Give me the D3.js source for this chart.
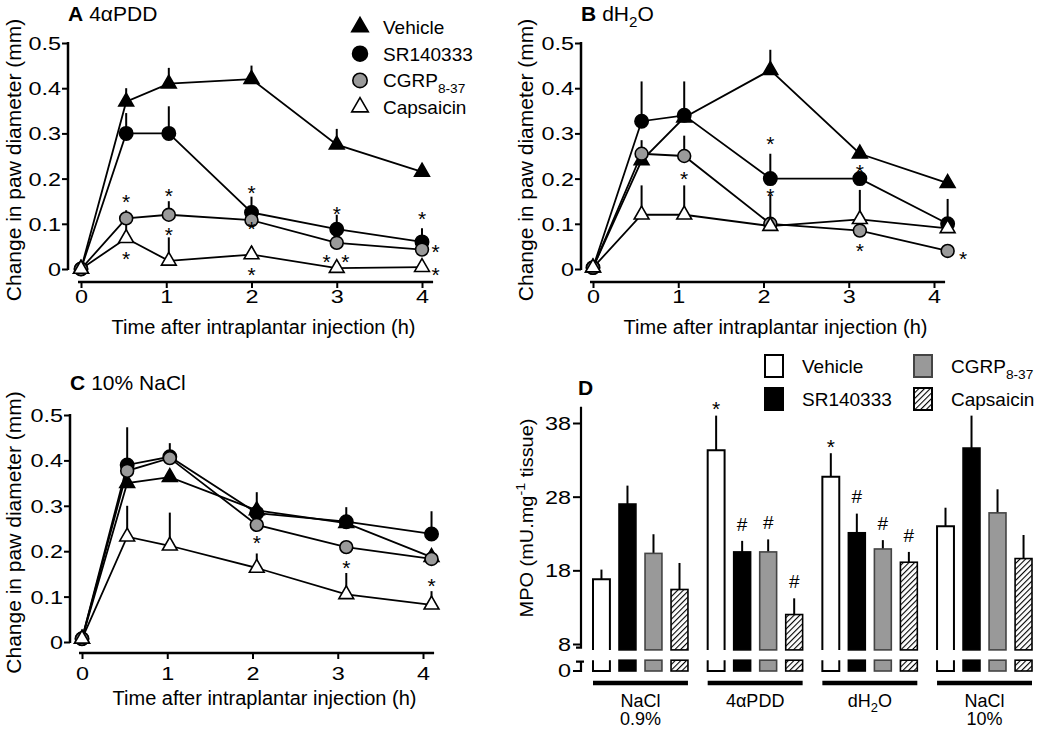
<!DOCTYPE html>
<html>
<head>
<meta charset="utf-8">
<script src="https://cdn.jsdelivr.net/npm/d3@7"></script>
<style>
  body { margin: 0; background: #fff; }
  svg { display: block; font-family: "Liberation Sans", Arial, sans-serif; }
</style>
</head>
<body>
<script>
'use strict';

// ---- data ----
const seriesNames = ["Vehicle", "SR140333", "CGRP8-37", "Capsaicin"];
const yTicksPaw = [0, 0.1, 0.2, 0.3, 0.4, 0.5];
const xTicksTime = [0, 1, 2, 3, 4];

// A: 4aPDD (null = no visible error bar)
const timesA = [0, 0.53, 1.03, 2, 3, 4];
const vehicleA = [0, 0.37, 0.41, 0.42, 0.275, 0.215];
const vehicleErrA = [null, 0.40, 0.445, 0.45, 0.31, null];
const srA = [0, 0.30, 0.30, 0.125, 0.088, 0.06];
const srErrA = [null, 0.345, 0.36, 0.16, 0.12, 0.09];
const cgrpA = [0, 0.112, 0.12, 0.108, 0.058, 0.043];
const cgrpErrA = [null, 0.13, 0.15, null, null, null];
const capsA = [0, 0.068, 0.018, 0.032, 0.002, 0.004];
const capsErrA = [null, 0.11, 0.07, 0.05, null, null];
const starsA = [[0.53, 0.16], [1.03, 0.175], [2, 0.18], [3, 0.135], [4, 0.124],
  [0.53, 0.035], [1.03, 0.087], [2, 0.1], [2, 0.0], [2.88, 0.027], [3.1, 0.027],
  [4.16, 0.05], [4.16, 0.0]];

// B: dH2O
const timesB = [0, 0.57, 1.07, 2.08, 3.13, 4.16];
const vehicleB = [0.003, 0.24, 0.335, 0.44, 0.255, 0.19];
const vehicleErrB = [null, null, null, 0.485, null, null];
const srB = [0.003, 0.327, 0.34, 0.2, 0.2, 0.1];
const srErrB = [null, 0.415, 0.415, 0.255, null, 0.155];
const cgrpB = [0.003, 0.255, 0.25, 0.1, 0.085, 0.04];
const cgrpErrB = [null, 0.285, 0.295, 0.165, null, null];
const capsB = [0.003, 0.12, 0.12, 0.095, 0.11, 0.09];
const capsErrB = [null, 0.185, 0.185, null, 0.175, null];
const starsB = [[1.07, 0.212], [2.08, 0.29], [2.08, 0.175], [3.13, 0.226], [3.13, 0.053], [4.34, 0.035]];

// C: 10% NaCl
const timesC = [0, 0.53, 1.03, 2.05, 3.1, 4.1];
const vehicleC = [0.007, 0.35, 0.363, 0.29, 0.262, 0.187];
const vehicleErrC = [null, null, null, null, 0.297, null];
const srC = [0.007, 0.39, 0.408, 0.284, 0.265, 0.238];
const srErrC = [null, 0.473, 0.438, 0.33, null, 0.288];
const cgrpC = [0.007, 0.377, 0.405, 0.258, 0.209, 0.183];
const cgrpErrC = [null, null, null, null, null, null];
const capsC = [0.007, 0.232, 0.212, 0.163, 0.105, 0.082];
const capsErrC = [null, 0.30, 0.285, 0.195, 0.152, 0.112];
const starsC = [[2.05, 0.23], [3.1, 0.176], [4.1, 0.135]];

// D: MPO activity
const groups = ["NaCl 0.9%", "4αPDD", "dH2O", "NaCl 10%"];
const mpoTicks = [8, 18, 28, 38];
const mpoVehicle = [16.8, 34.3, 30.7, 24.0];
const mpoVehicleErr = [18.1, 39.0, 33.9, 26.5];
const mpoSR = [27.0, 20.5, 23.1, 34.6];
const mpoSRErr = [29.5, 22.0, 25.7, 39.0];
const mpoCGRP = [20.3, 20.5, 20.9, 25.8];
const mpoCGRPErr = [22.9, 22.2, 22.1, 29.0];
const mpoCaps = [15.4, 12.0, 19.1, 19.6];
const mpoCapsErr = [19.0, 14.2, 20.5, 22.8];
const mpoMarks = [["4αPDD", "Vehicle", "*"], ["4αPDD", "SR140333", "#"], ["4αPDD", "CGRP8-37", "#"],
  ["4αPDD", "Capsaicin", "#"], ["dH2O", "Vehicle", "*"], ["dH2O", "SR140333", "#"],
  ["dH2O", "CGRP8-37", "#"], ["dH2O", "Capsaicin", "#"]];

// ---- drawing ----
const width = 1039, height = 733;
const svg = d3.select("body").append("svg").attr("width", width).attr("height", height);

const defs = svg.append("defs");
const hatch = defs.append("pattern").attr("id", "hatch").attr("patternUnits", "userSpaceOnUse")
  .attr("width", 4).attr("height", 4).attr("patternTransform", "rotate(45)");
hatch.append("rect").attr("width", 4).attr("height", 4).attr("fill", "#fff");
hatch.append("line").attr("x1", 0).attr("y1", 0).attr("x2", 0).attr("y2", 4)
  .attr("stroke", "#000").attr("stroke-width", 2.2);

const markerStyle = {
  "Vehicle": { shape: d3.symbolTriangle, size: 95, fill: "#000" },
  "SR140333": { shape: d3.symbolCircle, size: 140, fill: "#000" },
  "CGRP8-37": { shape: d3.symbolCircle, size: 130, fill: "#9a9a9a" },
  "Capsaicin": { shape: d3.symbolTriangle, size: 95, fill: "#fff" }
};

// text helper; parts: [text, "sub"|"sup"|"b"|undefined, dx]
function label(g, x, y, parts, o) {
  o = o || {};
  const size = o.size || 19;
  let tf = `translate(${x},${y})`;
  if (o.rotate) tf += ` rotate(${o.rotate})`;
  if (o.sx) tf += ` scale(${o.sx},1)`;
  const t = g.append("text").attr("transform", tf)
    .attr("text-anchor", o.anchor || "start")
    .style("font-size", size + "px");
  let shift = 0;
  parts.forEach(p => {
    const ts = t.append("tspan").text(p[0]);
    if (p[1] === "b") ts.style("font-weight", "bold");
    if (p[1] === "sub" || p[1] === "sup") {
      const d = p[1] === "sub" ? size * 0.3 : -size * 0.4;
      ts.attr("dy", d - shift).style("font-size", (size * 0.72) + "px");
      shift = d;
    } else if (shift !== 0) {
      ts.attr("dy", -shift);
      shift = 0;
    }
    if (p[2]) ts.attr("dx", p[2]);
  });
  return t;
}

function mark(g, x, y, sym) {
  // y is where the glyph centre should sit
  const size = sym === "*" ? 21 : 19;
  const off = sym === "*" ? 0.6 * size : 0.36 * size;
  g.append("text").attr("x", x).attr("y", y + off).attr("text-anchor", "middle")
    .style("font-size", size + "px").text(sym);
}

function styleTicks(axisG) {
  axisG.attr("font-family", null);
  axisG.selectAll("text").style("font-size", "18px").attr("fill", "#000");
  axisG.selectAll("line").attr("stroke", "#000").attr("stroke-width", 2);
}

function linePanel(p) {
  const g = svg.append("g");
  const x = d3.scaleLinear().domain([0, 4]).range(p.xRange);
  const y = d3.scaleLinear().domain([0, 0.5]).range(p.yRange);

  // y axis
  const ya = g.append("g").attr("transform", `translate(${p.yAxisX},0)`)
    .call(d3.axisLeft(y).tickValues(yTicksPaw).tickSize(6).tickSizeOuter(0)
      .tickFormat(d => d === 0 ? "0" : d3.format(".1f")(d)));
  ya.select(".domain").attr("stroke", "#000").attr("stroke-width", 2.5)
    .attr("d", `M0,${y(0) + 1}V${y(0.5) - 1}`);
  styleTicks(ya);
  ya.selectAll("text").attr("x", null).attr("dy", "0.36em")
    .attr("transform", "translate(-7,0) scale(1.3,1)");

  // x axis
  const xa = g.append("g").attr("transform", `translate(0,${p.xAxisY})`)
    .call(d3.axisBottom(x).tickValues(xTicksTime).tickSize(6).tickSizeOuter(0)
      .tickFormat(d3.format("d")));
  xa.select(".domain").attr("stroke", "#000").attr("stroke-width", 2.5)
    .attr("d", `M${x(0) - 3},0H${x(4.13)}`);
  styleTicks(xa);
  xa.selectAll("text").attr("y", p.tickLabelGap).attr("dy", "0.71em")
    .attr("transform", "scale(1.3,1)");

  // axis titles
  label(g, x(2) + 12, p.xAxisY + p.xTitleGap, [["Time after intraplantar injection (h)"]],
    { size: 20, anchor: "middle" });
  label(g, p.yTitleX, (y(0) + y(0.5)) / 2 + 4, [["Change in paw diameter (mm)"]],
    { size: 20, anchor: "middle", rotate: -90, sx: 1.05 });

  // panel title
  label(g, p.yAxisX, p.titleY, p.title, { size: 21 });

  const series = p.series.map((s, k) => ({
    name: seriesNames[k],
    pts: p.t.map((t, i) => ({ t: t, v: s[0][i], e: s[1][i] }))
  }));

  const line = d3.line().x(d => x(d.t)).y(d => y(d.v));
  g.append("g").selectAll("path").data(series).join("path")
    .attr("d", d => line(d.pts)).attr("fill", "none")
    .attr("stroke", "#000").attr("stroke-width", 1.8);

  g.append("g").selectAll("line")
    .data(series.flatMap(s => s.pts.filter(d => d.e !== null)))
    .join("line")
    .attr("x1", d => x(d.t)).attr("x2", d => x(d.t))
    .attr("y1", d => y(d.v)).attr("y2", d => y(d.e))
    .attr("stroke", "#000").attr("stroke-width", 2);

  series.forEach(s => {
    const m = markerStyle[s.name];
    g.append("g").selectAll("path").data(s.pts).join("path")
      .attr("transform", d => `translate(${x(d.t)},${y(d.v)})`)
      .attr("d", d3.symbol().type(m.shape).size(m.size))
      .attr("fill", m.fill).attr("stroke", "#000").attr("stroke-width", 1.6);
  });

  p.stars.forEach(s => mark(g, x(s[0]), y(s[1]), "*"));
  return g;
}

const gA = linePanel({
  xRange: [81, 422], yRange: [269, 43], yAxisX: 68, xAxisY: 282, tickLabelGap: 8,
  xTitleGap: 52, yTitleX: 21, titleY: 21,
  title: [["A", "b"], ["4αPDD", undefined, 6]],
  t: timesA,
  series: [[vehicleA, vehicleErrA], [srA, srErrA], [cgrpA, cgrpErrA], [capsA, capsErrA]],
  stars: starsA
});

linePanel({
  xRange: [593, 934], yRange: [269, 43], yAxisX: 581, xAxisY: 282, tickLabelGap: 8,
  xTitleGap: 52, yTitleX: 533, titleY: 21,
  title: [["B", "b"], ["dH", undefined, 6], ["2", "sub"], ["O"]],
  t: timesB,
  series: [[vehicleB, vehicleErrB], [srB, srErrB], [cgrpB, cgrpErrB], [capsB, capsErrB]],
  stars: starsB
});

linePanel({
  xRange: [82, 423], yRange: [642, 415], yAxisX: 70, xAxisY: 653, tickLabelGap: 14,
  xTitleGap: 52, yTitleX: 21, titleY: 390,
  title: [["C", "b"], ["10% NaCl", undefined, 6]],
  t: timesC,
  series: [[vehicleC, vehicleErrC], [srC, srErrC], [cgrpC, cgrpErrC], [capsC, capsErrC]],
  stars: starsC
});

// legend for the line panels (inside A)
const legA = gA.append("g");
seriesNames.forEach((n, i) => {
  const m = markerStyle[n];
  const ly = 27 + i * 26.7;
  legA.append("path").attr("transform", `translate(360,${ly})`)
    .attr("d", d3.symbol().type(m.shape).size(m.size * 1.25))
    .attr("fill", m.fill).attr("stroke", "#000").attr("stroke-width", 1.6);
  const parts = n === "CGRP8-37" ? [["CGRP"], ["8-37", "sub"]] : [[n]];
  label(legA, 383, ly + 7, parts, { size: 19 });
});

// ---- panel D ----
const gD = svg.append("g");
const yD = d3.scaleLinear().domain([8, 38]).range([644, 423]);
const yLow = d3.scaleLinear().domain([0, 8]).range([671, 644]);
const upperBase = 7.2, lowerTop = 3.2;   // where the broken bars are cut

const x0 = d3.scaleBand().domain(groups).range([593, 1032]).paddingInner(0.172);
const x1 = d3.scaleBand().domain(seriesNames).range([0, x0.bandwidth()]).paddingInner(0.35);

const mpo = {
  "Vehicle": [mpoVehicle, mpoVehicleErr],
  "SR140333": [mpoSR, mpoSRErr],
  "CGRP8-37": [mpoCGRP, mpoCGRPErr],
  "Capsaicin": [mpoCaps, mpoCapsErr]
};
const barStyle = {
  "Vehicle": { fill: "#fff", stroke: "#000" },
  "SR140333": { fill: "#000", stroke: "#000" },
  "CGRP8-37": { fill: "#999", stroke: "#444" },
  "Capsaicin": { fill: "url(#hatch)", stroke: "#000" }
};

const bars = groups.flatMap((grp, gi) => seriesNames.map(n => ({
  grp: grp, name: n, v: mpo[n][0][gi], e: mpo[n][1][gi]
})));

// error bars (behind)
gD.append("g").selectAll("line").data(bars).join("line")
  .attr("x1", d => x0(d.grp) + x1(d.name) + x1.bandwidth() / 2)
  .attr("x2", d => x0(d.grp) + x1(d.name) + x1.bandwidth() / 2)
  .attr("y1", d => yD(d.v)).attr("y2", d => yD(d.e))
  .attr("stroke", "#000").attr("stroke-width", 2);

bars.forEach(d => {
  const bx = x0(d.grp) + x1(d.name), bw = x1.bandwidth();
  const s = barStyle[d.name];
  if (d.name === "Vehicle") {
    gD.append("path").attr("d", `M${bx},${yD(upperBase)}V${yD(d.v)}H${bx + bw}V${yD(upperBase)}`)
      .attr("fill", "#fff").attr("stroke", "#000").attr("stroke-width", 2);
    gD.append("path").attr("d", `M${bx},${yLow(lowerTop)}V${yLow(0)}H${bx + bw}V${yLow(lowerTop)}`)
      .attr("fill", "#fff").attr("stroke", "#000").attr("stroke-width", 2);
  } else {
    gD.append("rect").attr("x", bx).attr("y", yD(d.v)).attr("width", bw)
      .attr("height", yD(upperBase) - yD(d.v))
      .attr("fill", s.fill).attr("stroke", s.stroke).attr("stroke-width", 1.6);
    gD.append("rect").attr("x", bx).attr("y", yLow(lowerTop)).attr("width", bw)
      .attr("height", yLow(0) - yLow(lowerTop))
      .attr("fill", s.fill).attr("stroke", s.stroke).attr("stroke-width", 1.6);
  }
});

mpoMarks.forEach(m => {
  const gi = groups.indexOf(m[0]);
  const e = mpo[m[1]][1][gi];
  mark(gD, x0(m[0]) + x1(m[1]) + x1.bandwidth() / 2, yD(e) - (m[2] === "*" ? 12 : 17), m[2]);
});

// D axis with break
const yaD = gD.append("g").attr("transform", "translate(581,0)")
  .call(d3.axisLeft(yD).tickValues(mpoTicks).tickSize(8).tickSizeOuter(0));
yaD.select(".domain").attr("stroke", "#000").attr("stroke-width", 2.2)
  .attr("fill", "none")
  .attr("d", `M0,${yD(40.2)}V${yD(7.5)}H-5`);
styleTicks(yaD);
yaD.selectAll("text").attr("x", null).attr("dy", "0.36em")
  .attr("transform", "translate(-10,0) scale(1.3,1)");
const lowAx = gD.append("g").attr("transform", "translate(581,0)");
lowAx.append("path").attr("d", `M-5,${yLow(2.8)}H3M0,${yLow(2.8)}V${yLow(0)}H-8`)
  .attr("fill", "none").attr("stroke", "#000").attr("stroke-width", 2.2);
lowAx.append("text").attr("transform", `translate(-10,${yLow(0)}) scale(1.3,1)`)
  .attr("dy", "0.36em").attr("text-anchor", "end").style("font-size", "18px").text("0");

// group underlines and labels
groups.forEach(grp => {
  gD.append("line").attr("x1", x0(grp)).attr("x2", x0(grp) + x0.bandwidth())
    .attr("y1", 683).attr("y2", 683).attr("stroke", "#000").attr("stroke-width", 4.5);
});
const cx = grp => x0(grp) + x0.bandwidth() / 2;
label(gD, cx("NaCl 0.9%"), 707, [["NaCl"]], { size: 18, anchor: "middle" });
label(gD, cx("NaCl 0.9%"), 725, [["0.9%"]], { size: 18, anchor: "middle" });
label(gD, cx("4αPDD"), 707, [["4αPDD"]], { size: 18, anchor: "middle" });
label(gD, cx("dH2O"), 707, [["dH"], ["2", "sub"], ["O"]], { size: 18, anchor: "middle" });
label(gD, cx("NaCl 10%"), 707, [["NaCl"]], { size: 18, anchor: "middle" });
label(gD, cx("NaCl 10%"), 725, [["10%"]], { size: 18, anchor: "middle" });

label(gD, 533, 518, [["MPO (mU.mg"], ["-1", "sup"], [" tissue)"]],
  { size: 19, anchor: "middle", rotate: -90, sx: 1.05 });
label(gD, 578, 395, [["D", "b"]], { size: 21 });

// D legend
const legD = gD.append("g");
seriesNames.forEach((n, i) => {
  const lx = i < 2 ? 765 : 914, ly = i % 2 === 0 ? 355 : 388;
  const s = barStyle[n];
  legD.append("rect").attr("x", lx).attr("y", ly).attr("width", 18).attr("height", 22)
    .attr("fill", s.fill).attr("stroke", s.stroke).attr("stroke-width", 2);
  const parts = n === "CGRP8-37" ? [["CGRP"], ["8-37", "sub"]] : [[n]];
  label(legD, lx + 37, ly + 18, parts, { size: 19 });
});
</script>
</body>
</html>
